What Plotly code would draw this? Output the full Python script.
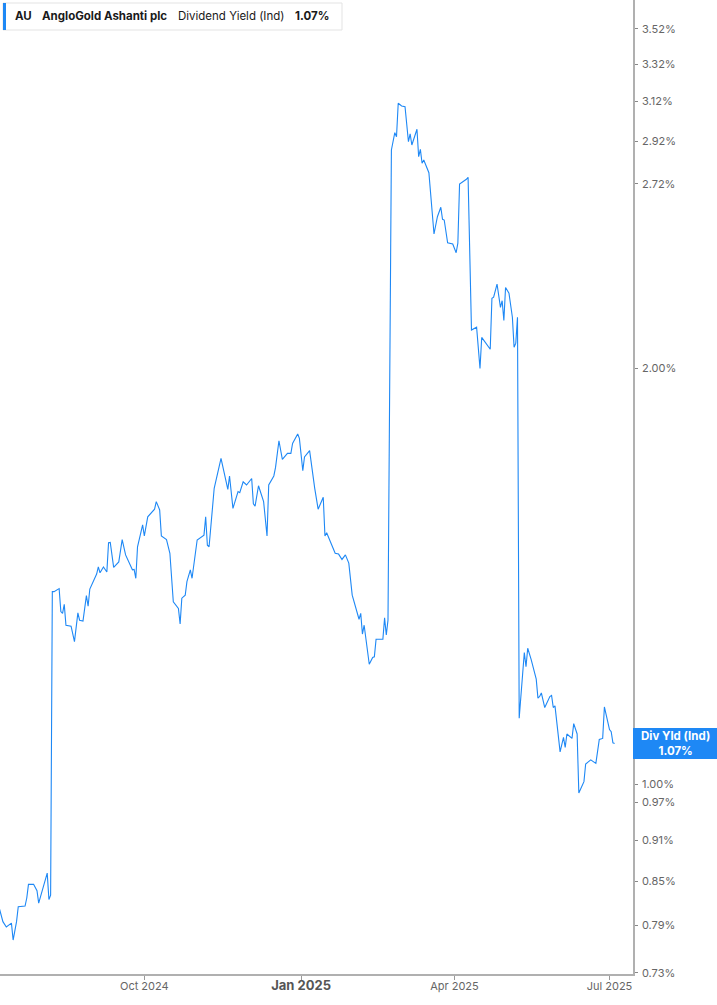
import math
import plotly.graph_objects as go

# dividend yield (%)
dates = [
    "2024-07-08", "2024-07-10", "2024-07-12", "2024-07-14", "2024-07-15", "2024-07-16",
    "2024-07-18", "2024-07-19", "2024-07-23", "2024-07-24", "2024-07-25", "2024-07-28",
    "2024-07-30", "2024-07-31", "2024-08-02", "2024-08-05", "2024-08-06", "2024-08-07",
    "2024-08-08", "2024-08-09", "2024-08-12", "2024-08-13", "2024-08-14", "2024-08-15",
    "2024-08-16", "2024-08-19", "2024-08-21", "2024-08-23", "2024-08-24", "2024-08-26",
    "2024-08-28", "2024-08-29", "2024-08-30", "2024-09-03", "2024-09-04", "2024-09-05",
    "2024-09-07", "2024-09-09", "2024-09-10", "2024-09-11", "2024-09-13", "2024-09-16",
    "2024-09-18", "2024-09-20", "2024-09-24", "2024-09-25", "2024-09-26", "2024-09-27",
    "2024-09-30", "2024-10-01", "2024-10-03", "2024-10-07", "2024-10-08", "2024-10-10",
    "2024-10-11", "2024-10-14", "2024-10-16", "2024-10-18", "2024-10-21", "2024-10-22",
    "2024-10-23", "2024-10-25", "2024-10-26", "2024-10-28", "2024-10-29", "2024-11-01",
    "2024-11-05", "2024-11-06", "2024-11-07", "2024-11-08", "2024-11-11", "2024-11-14",
    "2024-11-15", "2024-11-19", "2024-11-20", "2024-11-22", "2024-11-25", "2024-11-26",
    "2024-11-28", "2024-11-30", "2024-12-03", "2024-12-04", "2024-12-05", "2024-12-07",
    "2024-12-10", "2024-12-12", "2024-12-13", "2024-12-16", "2024-12-17", "2024-12-19",
    "2024-12-21", "2024-12-24", "2024-12-26", "2024-12-27", "2024-12-30", "2024-12-31",
    "2025-01-02", "2025-01-03", "2025-01-06", "2025-01-09", "2025-01-11", "2025-01-14",
    "2025-01-15", "2025-01-16", "2025-01-18", "2025-01-21", "2025-01-23", "2025-01-25",
    "2025-01-27", "2025-01-29", "2025-01-31", "2025-02-03", "2025-02-04", "2025-02-05",
    "2025-02-06", "2025-02-07", "2025-02-10", "2025-02-12", "2025-02-13", "2025-02-14",
    "2025-02-18", "2025-02-19", "2025-02-20", "2025-02-21", "2025-02-23", "2025-02-25",
    "2025-02-26", "2025-02-27", "2025-03-01", "2025-03-03", "2025-03-05", "2025-03-06",
    "2025-03-07", "2025-03-10", "2025-03-11", "2025-03-12", "2025-03-13", "2025-03-14",
    "2025-03-17", "2025-03-20", "2025-03-22", "2025-03-24", "2025-03-25", "2025-03-26",
    "2025-03-28", "2025-03-31", "2025-04-02", "2025-04-03", "2025-04-04", "2025-04-08",
    "2025-04-09", "2025-04-11", "2025-04-14", "2025-04-16", "2025-04-17", "2025-04-22",
    "2025-04-23", "2025-04-24", "2025-04-26", "2025-04-28", "2025-04-29", "2025-04-30",
    "2025-05-01", "2025-05-03", "2025-05-05", "2025-05-06", "2025-05-07", "2025-05-08",
    "2025-05-09", "2025-05-12", "2025-05-13", "2025-05-14", "2025-05-16", "2025-05-19",
    "2025-05-20", "2025-05-21", "2025-05-22", "2025-05-24", "2025-05-27", "2025-05-28",
    "2025-05-29", "2025-05-30", "2025-06-02", "2025-06-04", "2025-06-05", "2025-06-06",
    "2025-06-09", "2025-06-10", "2025-06-12", "2025-06-13", "2025-06-16", "2025-06-17",
    "2025-06-20", "2025-06-23", "2025-06-25", "2025-06-27", "2025-06-28", "2025-07-01",
    "2025-07-02", "2025-07-03", "2025-07-04",
]
yields = [
    0.812, 0.795, 0.788, 0.791, 0.793, 0.771,
    0.795, 0.815, 0.816, 0.827, 0.846, 0.846,
    0.837, 0.820, 0.836, 0.862, 0.825, 0.831,
    1.378, 1.378, 1.385, 1.333, 1.329, 1.349,
    1.303, 1.301, 1.268, 1.330, 1.314, 1.312,
    1.369, 1.345, 1.384, 1.419, 1.436, 1.422,
    1.436, 1.424, 1.495, 1.496, 1.435, 1.448,
    1.503, 1.465, 1.429, 1.430, 1.409, 1.485,
    1.540, 1.512, 1.561, 1.581, 1.601, 1.579,
    1.512, 1.503, 1.469, 1.355, 1.340, 1.306,
    1.363, 1.370, 1.401, 1.429, 1.409, 1.502,
    1.514, 1.561, 1.489, 1.485, 1.637, 1.702,
    1.721, 1.634, 1.671, 1.583, 1.628, 1.625,
    1.655, 1.646, 1.664, 1.595, 1.589, 1.644,
    1.601, 1.512, 1.646, 1.671, 1.695, 1.772,
    1.718, 1.735, 1.735, 1.764, 1.792, 1.779,
    1.686, 1.725, 1.743, 1.637, 1.581, 1.613,
    1.512, 1.520, 1.500, 1.469, 1.467, 1.454,
    1.465, 1.445, 1.370, 1.329, 1.316, 1.329,
    1.284, 1.303, 1.221, 1.235, 1.236, 1.273,
    1.273, 1.319, 1.282, 1.314, 2.877, 2.961,
    2.941, 3.110, 3.096, 3.092, 2.917, 2.955,
    2.901, 2.978, 2.845, 2.880, 2.814, 2.829,
    2.770, 2.501, 2.574, 2.615, 2.563, 2.560,
    2.465, 2.460, 2.424, 2.463, 2.718, 2.740,
    2.749, 2.131, 2.141, 1.999, 2.105, 2.064,
    2.247, 2.251, 2.301, 2.213, 2.238, 2.165,
    2.288, 2.266, 2.177, 2.071, 2.085, 2.177,
    1.116, 1.245, 1.216, 1.254, 1.231, 1.191,
    1.154, 1.157, 1.164, 1.136, 1.157, 1.159,
    1.136, 1.139, 1.055, 1.081, 1.063, 1.087,
    1.079, 1.106, 1.087, 0.985, 1.004, 1.034,
    1.041, 1.035, 1.077, 1.079, 1.137, 1.095,
    1.091, 1.071, 1.070,
]

y_ticks = [0.73, 0.79, 0.85, 0.91, 0.97, 1.00, 2.00, 2.72, 2.92, 3.12, 3.32, 3.52]
x_ticks = ["2024-10-01", "2025-01-01", "2025-04-01", "2025-07-01"]
x_labels = ["Oct 2024",
            "<b><span style='font-size:13px;color:#555555'>Jan 2025</span></b>",
            "Apr 2025", "Jul 2025"]

ticker = "AU"
company = "AngloGold Ashanti plc"
metric = "Dividend Yield (Ind)"
last = yields[-1]

BLUE = "#1e88f5"
FONT = "Inter, Roboto, sans-serif"

fig = go.Figure()
fig.add_trace(go.Scatter(
    x=dates, y=yields, mode="lines",
    line=dict(color=BLUE, width=1.1),
    hoverinfo="x+y",
))

y_lo, y_hi = math.log10(0.7286), math.log10(3.694)

fig.update_layout(
    width=717, height=1005,
    margin=dict(l=0, r=84, t=0, b=31),
    plot_bgcolor="white", paper_bgcolor="white",
    showlegend=False,
    font=dict(family=FONT, size=11, color="#666666"),
    xaxis=dict(
        range=["2024-07-08 07:00", "2025-07-14 19:00"],
        tickvals=x_ticks, ticktext=x_labels,
        showgrid=False, zeroline=False,
        showline=True, linecolor="#b0b0b0", linewidth=2,
        ticks="outside", ticklen=4, tickcolor="#999999",
        ticklabelstandoff=-3,
        tickfont=dict(size=11, color="#666666"),
    ),
    yaxis=dict(
        type="log", side="right",
        range=[y_lo, y_hi],
        tickvals=y_ticks, ticktext=[f"{v:.2f}%" for v in y_ticks],
        showgrid=False, zeroline=False,
        showline=True, linecolor="#b0b0b0", linewidth=1.5,
        ticks="outside", ticklen=3, tickcolor="#888888",
        ticklabelstandoff=2,
        tickfont=dict(size=11, color="#666666"),
    ),
)

# header box
W = 633.0
H = 974.0
fig.add_shape(type="rect", xref="paper", yref="paper",
              x0=3 / W, x1=342 / W, y0=(H - 30) / H, y1=(H - 3) / H,
              line=dict(color="#e3e3e3", width=1), fillcolor="white")
fig.add_shape(type="rect", xref="paper", yref="paper",
              x0=3 / W, x1=6 / W, y0=(H - 30) / H, y1=(H - 3) / H,
              line=dict(width=0), fillcolor=BLUE)
header = [(13, f"<b>{ticker}</b>"), (40, f"<b>{company}</b>"),
          (176, metric), (293, f"<b>{last:.2f}%</b>")]
for px, txt in header:
    fig.add_annotation(xref="paper", yref="paper", x=px / W, y=(H - 16.5) / H,
                       text=txt, showarrow=False, xanchor="left", yanchor="middle",
                       font=dict(family=FONT, size=11.5, color="#1a1a1a"))

# last value label on the right axis
y_last = (math.log10(last) - y_lo) / (y_hi - y_lo)
half = 15.5 / H
fig.add_shape(type="rect", xref="paper", yref="paper",
              x0=1, x1=717 / W, y0=y_last - half, y1=y_last + half,
              line=dict(width=0), fillcolor=BLUE, layer="above")
fig.add_annotation(xref="paper", yref="paper", x=(633 + 717) / 2 / W, y=y_last,
                   text=f"<b>Div Yld (Ind)</b><br><b>{last:.2f}%</b>",
                   showarrow=False, xanchor="center", yanchor="middle",
                   font=dict(family=FONT, size=11.5, color="white"))

fig.write_html("out.html", config={"displayModeBar": False},
               post_script="document.body.style.margin='0';")
